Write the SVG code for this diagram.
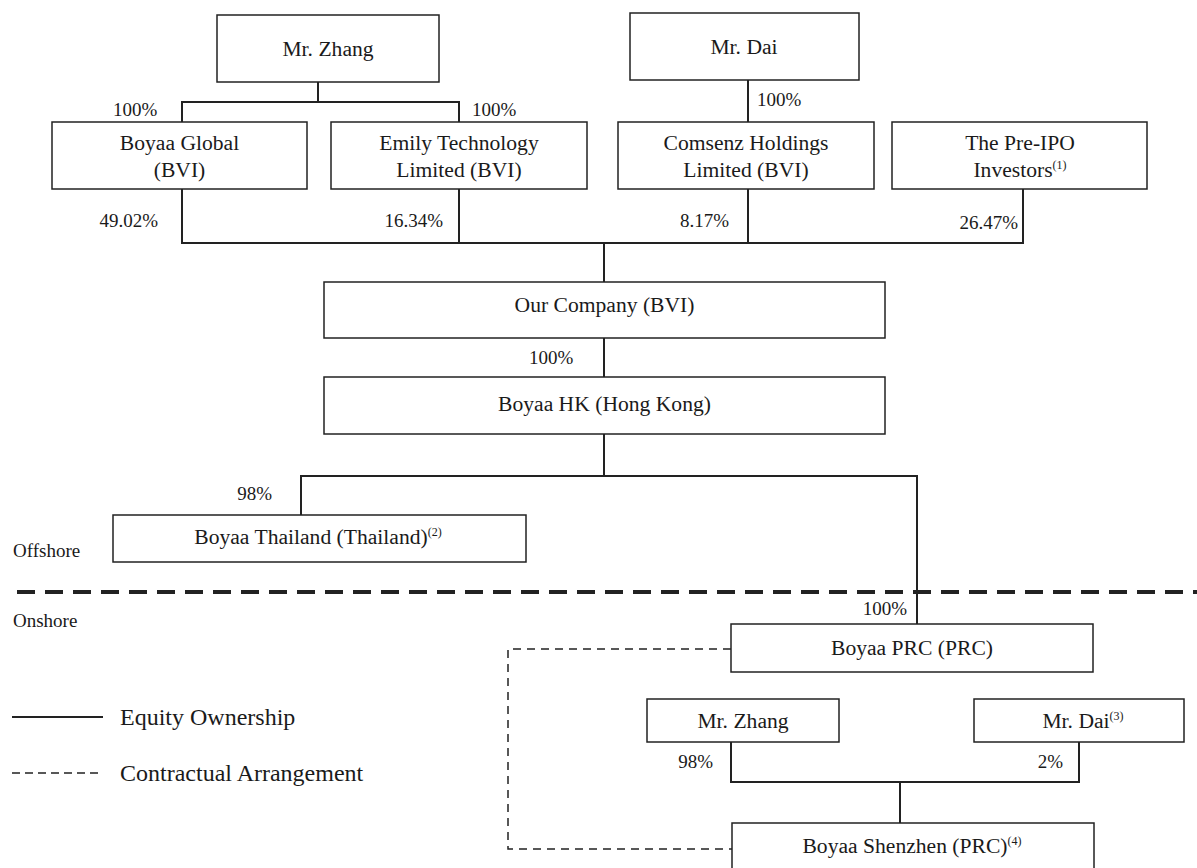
<svg xmlns="http://www.w3.org/2000/svg" width="1197" height="868" viewBox="0 0 1197 868">
<style>
.box{fill:#fff;stroke:#222;stroke-width:1.5}
.t{font-family:"Liberation Serif","Times New Roman",serif;font-size:21.6px;fill:#1a1a1a;text-anchor:middle}
.p{font-family:"Liberation Serif","Times New Roman",serif;font-size:19px;fill:#1a1a1a}
.e{text-anchor:end}
.lg{font-family:"Liberation Serif","Times New Roman",serif;font-size:24px;fill:#1a1a1a}
.sup{font-size:12px}
.ln{fill:none;stroke:#222;stroke-width:2}
.dsh{fill:none;stroke:#222;stroke-width:1.5;stroke-dasharray:8 6}
.sep{fill:none;stroke:#222;stroke-width:4;stroke-dasharray:18 10}
</style>
<rect width="1197" height="868" fill="#fff"/>
<g id="connectors">
<path class="ln" d="M318 82V102M182 122V102H459V122"/>
<path class="ln" d="M748 80V122"/>
<path class="ln" d="M182 189V243H1023V189M459 189V243M748 189V243M604 243V282"/>
<path class="ln" d="M604 338V377"/>
<path class="ln" d="M604 434V476M301 515V476H917V624"/>
<path class="ln" d="M731 742V782H1079V742M900 782V823"/>
<path class="dsh" d="M731 649H508V849H732"/>
</g>
<path class="sep" d="M17 592H1197"/>
<g id="n_zhang"><rect class="box" x="217" y="15" width="222" height="67"/><text class="t" x="328" y="56">Mr. Zhang</text></g>
<g id="n_dai"><rect class="box" x="630" y="13" width="229" height="67"/><text class="t" x="744" y="54">Mr. Dai</text></g>
<g id="n_boyaaglobal"><rect class="box" x="52" y="122" width="255" height="67"/><text class="t" x="179.5" y="150">Boyaa Global</text><text class="t" x="179.5" y="177">(BVI)</text></g>
<g id="n_emily"><rect class="box" x="331" y="122" width="256" height="67"/><text class="t" x="459" y="150">Emily Technology</text><text class="t" x="459" y="177">Limited (BVI)</text></g>
<g id="n_comsenz"><rect class="box" x="618" y="122" width="256" height="67"/><text class="t" x="746" y="150">Comsenz Holdings</text><text class="t" x="746" y="177">Limited (BVI)</text></g>
<g id="n_preipo"><rect class="box" x="892" y="122" width="255" height="67"/><text class="t" x="1020" y="150">The Pre-IPO</text><text class="t" x="1020" y="177">Investors<tspan class="sup" dy="-8">(1)</tspan></text></g>
<g id="n_ourco"><rect class="box" x="324" y="282" width="561" height="56"/><text class="t" x="604.5" y="312">Our Company (BVI)</text></g>
<g id="n_hk"><rect class="box" x="324" y="377" width="561" height="57"/><text class="t" x="604.5" y="411">Boyaa HK (Hong Kong)</text></g>
<g id="n_thai"><rect class="box" x="113" y="515" width="413" height="47"/><text class="t" x="318" y="544">Boyaa Thailand (Thailand)<tspan class="sup" dy="-8">(2)</tspan></text></g>
<g id="n_prc"><rect class="box" x="731" y="624" width="362" height="48"/><text class="t" x="912" y="655">Boyaa PRC (PRC)</text></g>
<g id="n_zhang2"><rect class="box" x="647" y="699" width="192" height="43"/><text class="t" x="743" y="728">Mr. Zhang</text></g>
<g id="n_dai2"><rect class="box" x="974" y="699" width="210" height="43"/><text class="t" x="1083" y="728">Mr. Dai<tspan class="sup" dy="-8">(3)</tspan></text></g>
<g id="n_shenzhen"><rect class="box" x="732" y="823" width="362" height="60"/><text class="t" x="912" y="853">Boyaa Shenzhen (PRC)<tspan class="sup" dy="-8">(4)</tspan></text></g>
<g id="labels">
<text class="p" x="113" y="116">100%</text>
<text class="p" x="472" y="116">100%</text>
<text class="p" x="757" y="106">100%</text>
<text class="p e" x="158" y="227">49.02%</text>
<text class="p e" x="443" y="227">16.34%</text>
<text class="p e" x="729" y="227">8.17%</text>
<text class="p e" x="1018" y="229">26.47%</text>
<text class="p" x="529" y="364">100%</text>
<text class="p e" x="272" y="500">98%</text>
<text class="p e" x="907" y="615">100%</text>
<text class="p e" x="713" y="768">98%</text>
<text class="p e" x="1063" y="768">2%</text>
<text class="p" x="13" y="557">Offshore</text>
<text class="p" x="13" y="627">Onshore</text>
</g>
<g id="legend">
<path class="ln" d="M12 717H103"/>
<text class="lg" x="120" y="725">Equity Ownership</text>
<path class="dsh" d="M12 773H103" style="stroke-dasharray:8 5"/>
<text class="lg" x="120" y="781">Contractual Arrangement</text>
</g>
</svg>
